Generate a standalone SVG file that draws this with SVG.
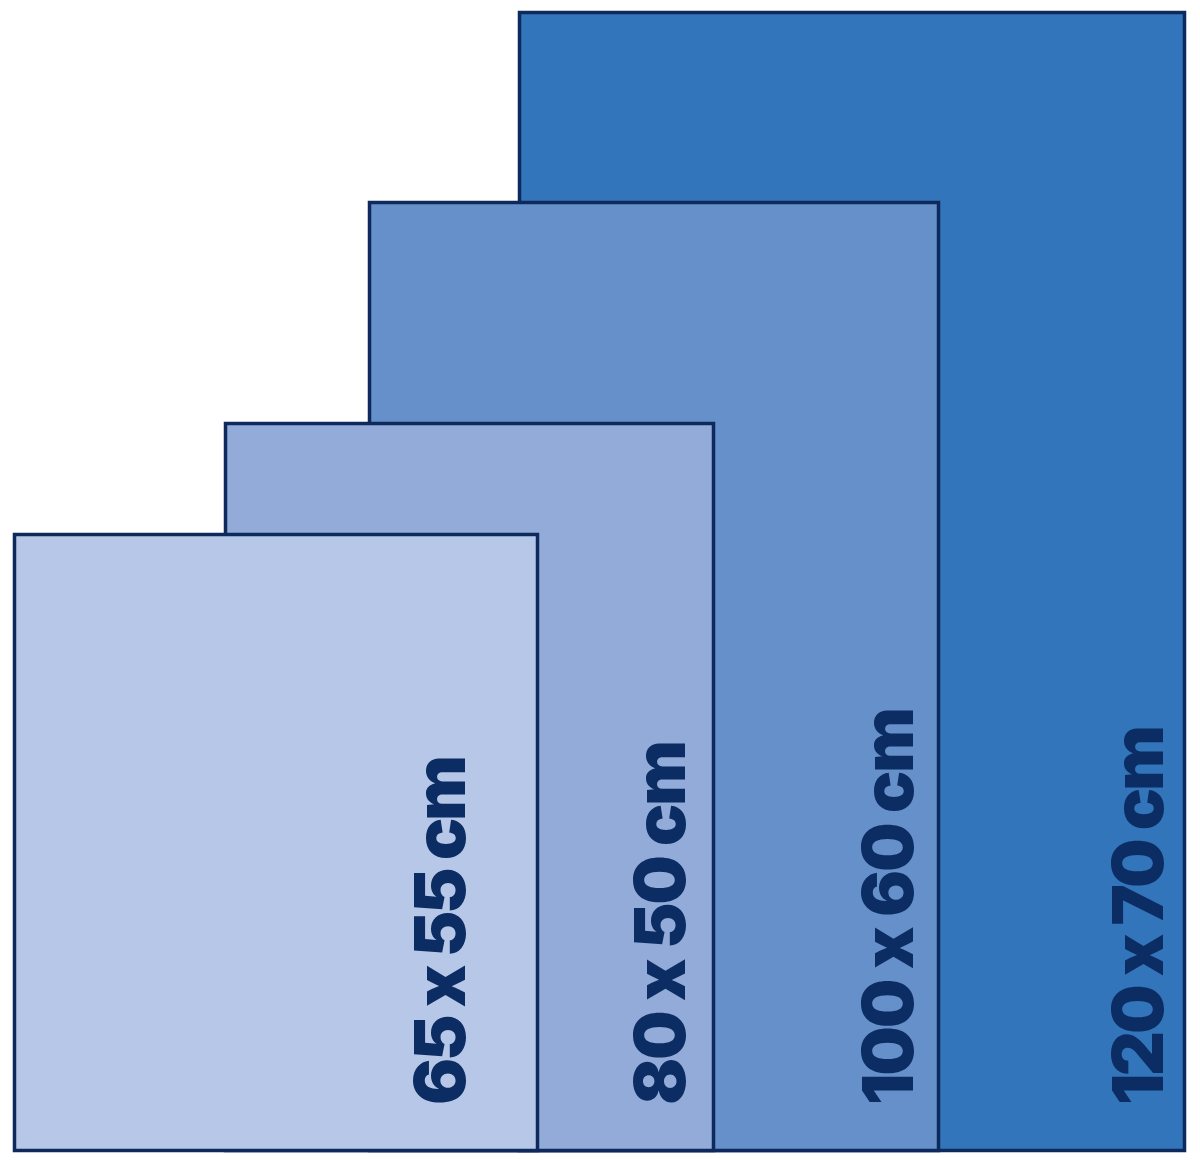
<svg xmlns="http://www.w3.org/2000/svg" width="1200" height="1160" viewBox="0 0 1200 1160">
<style>
.r{stroke:#0e2a5c;stroke-width:3.5}
.t{font-family:Inter,"DejaVu Sans",sans-serif;font-weight:900;font-size:70px;fill:#0c2d63;font-feature-settings:"calt" 0;font-variant-ligatures:none}
</style>
<rect width="1200" height="1160" fill="#ffffff"/>
<g id="size-120x70">
<rect class="r" x="519.5" y="12.5" width="665" height="1138" fill="#3375bb"/>
<text class="t" transform="translate(1163,1105) rotate(-90)" textLength="380" lengthAdjust="spacing">120 x 70 cm</text>
</g>
<g id="size-100x60">
<rect class="r" x="369.5" y="202.5" width="569" height="948" fill="#6690c9"/>
<text class="t" transform="translate(913,1105) rotate(-90)" textLength="398" lengthAdjust="spacing">100 x 60 cm</text>
</g>
<g id="size-80x50">
<rect class="r" x="225.5" y="423.5" width="488" height="727" fill="#92abd9"/>
<text class="t" transform="translate(685,1105) rotate(-90)" textLength="365" lengthAdjust="spacing">80 x 50 cm</text>
</g>
<g id="size-65x55">
<rect class="r" x="14.5" y="534.5" width="523" height="616" fill="#b7c7e7"/>
<text class="t" transform="translate(465,1105) rotate(-90)" textLength="350" lengthAdjust="spacing">65 x 55 cm</text>
</g>
<g id="connectors"/>
</svg>
